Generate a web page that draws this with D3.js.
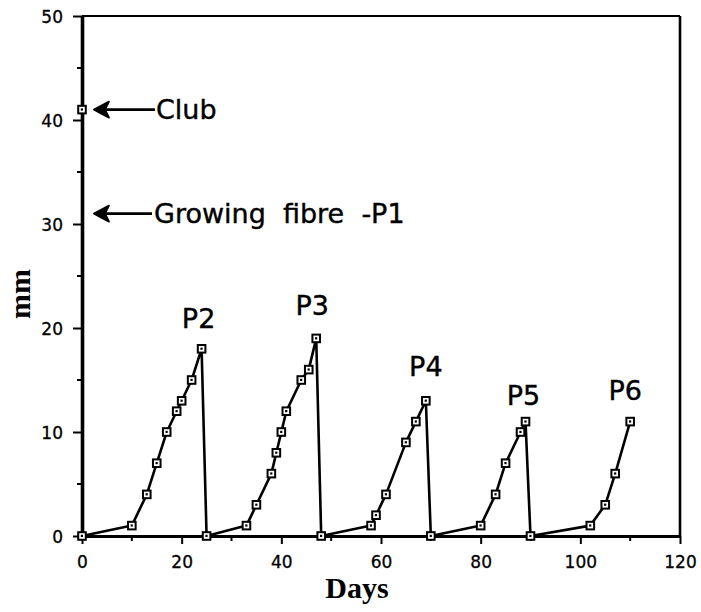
<!DOCTYPE html>
<html>
<head>
<meta charset="utf-8">
<script src="https://cdn.jsdelivr.net/npm/d3@7"></script>
<style>
  html, body { margin: 0; padding: 0; background: #fff; }
  svg { display: block; }
  .tick-label { font-family: "DejaVu Sans", sans-serif; font-size: 17px; fill: #000; stroke: #000; stroke-width: 0.3; }
  .note { font-family: "DejaVu Sans", sans-serif; font-size: 27px; fill: #000; stroke: #000; stroke-width: 0.4; white-space: pre; }
  .axis-title { font-family: "Liberation Serif", serif; font-weight: bold; font-size: 30px; fill: #000; }
</style>
</head>
<body>
<svg id="chart" width="701" height="612"></svg>
<script>
// Fibre length (mm) over time (days): successive growth cycles P2..P6
const days = [0, 10, 13, 15, 17, 19, 20, 22, 24, 25,
              33, 35, 38, 39, 40, 41, 44, 45.5, 47, 48,
              58, 59, 61, 65, 67, 69, 70,
              80, 83, 85, 88, 89, 90,
              102, 105, 107, 110];
const mm = [0, 1, 4, 7, 10, 12, 13, 15, 18, 0,
            1, 3, 6, 8, 10, 12, 15, 16, 19, 0,
            1, 2, 4, 9, 11, 13, 0,
            1, 4, 7, 10, 11, 0,
            1, 3, 6, 11];

// Club fibre measured at day 0
const clubDay = [0];
const clubMm = [41];

// Peak of each cycle
const cycleNames = ["P2", "P3", "P4", "P5", "P6"];
const cyclePeakDay = [24, 47, 69, 89, 110];
const cyclePeakMm = [18, 19, 13, 11, 11];

const xTicks = [0, 20, 40, 60, 80, 100, 120];
const yTicks = [0, 10, 20, 30, 40, 50];

const svg = d3.select("#chart");
const x = d3.scaleLinear().domain([0, 120]).range([82, 680]);
const y = d3.scaleLinear().domain([0, 50]).range([536, 16]);

// Frame: top and right borders
svg.append("line").attr("x1", x(0)).attr("x2", x(120)).attr("y1", y(50)).attr("y2", y(50))
  .attr("stroke", "#000").attr("stroke-width", 2.2);
svg.append("line").attr("x1", x(120)).attr("x2", x(120)).attr("y1", y(50)).attr("y2", y(0))
  .attr("stroke", "#000").attr("stroke-width", 2.6);

// Left axis
const yAxis = d3.axisLeft(y).tickValues(yTicks).tickSize(9).tickSizeOuter(0).tickFormat(d3.format("d"));
const gy = svg.append("g").attr("transform", `translate(${x(0)},0)`).call(yAxis);
gy.select(".domain").attr("stroke-width", 3.6);
gy.selectAll(".tick line").attr("stroke-width", 2);
gy.selectAll(".tick text").attr("class", "tick-label").attr("x", -19).attr("dy", "0.36em")
  .attr("font-size", null).attr("font-family", null);
gy.append("g").selectAll("line").data(d3.range(5, 50, 10)).join("line")
  .attr("x1", -5).attr("x2", 0).attr("y1", d => y(d)).attr("y2", d => y(d))
  .attr("stroke", "#000").attr("stroke-width", 2);

// Bottom axis
const xAxis = d3.axisBottom(x).tickValues(xTicks).tickSize(8).tickSizeOuter(0).tickFormat(d3.format("d"));
const gx = svg.append("g").attr("transform", `translate(0,${y(0)})`).call(xAxis);
gx.select(".domain").attr("stroke-width", 3);
gx.selectAll(".tick line").attr("stroke-width", 2);
gx.selectAll(".tick text").attr("class", "tick-label").attr("y", 20).attr("dy", "0.72em")
  .attr("font-size", null).attr("font-family", null);
gx.append("g").selectAll("line").data(d3.range(10, 120, 20)).join("line")
  .attr("x1", d => x(d)).attr("x2", d => x(d)).attr("y1", 0).attr("y2", 5)
  .attr("stroke", "#000").attr("stroke-width", 2);

// Axis titles
svg.append("text").attr("class", "axis-title").attr("text-anchor", "middle")
  .attr("x", 357).attr("y", 598).text("Days");
svg.append("text").attr("class", "axis-title").attr("text-anchor", "middle")
  .attr("transform", "translate(30,294) rotate(-90)").text("mm");

// Growth series
const pts = days.map((d, i) => [d, mm[i]]);
const line = d3.line().x(d => x(d[0])).y(d => y(d[1]));
svg.append("path").datum(pts).attr("d", line)
  .attr("fill", "none").attr("stroke", "#000").attr("stroke-width", 2.6).attr("stroke-linejoin", "round");

// Square markers
function markers(data) {
  const g = svg.append("g").selectAll("g").data(data).join("g")
    .attr("transform", d => `translate(${x(d[0])},${y(d[1])})`);
  g.append("rect").attr("x", -3.8).attr("y", -3.8).attr("width", 7.6).attr("height", 7.6)
    .attr("fill", "#fff").attr("stroke", "#000").attr("stroke-width", 2);
  g.append("rect").attr("x", -1.2).attr("y", -1.2).attr("width", 2.2).attr("height", 2.2).attr("fill", "#000");
}
markers(pts);
markers(clubDay.map((d, i) => [d, clubMm[i]]));

// Arrow annotations
function arrow(xTip, yv, len) {
  const tx = x(xTip) + 12, ty = y(yv);
  svg.append("line").attr("x1", tx + 8).attr("x2", tx + len).attr("y1", ty).attr("y2", ty)
    .attr("stroke", "#000").attr("stroke-width", 2.6);
  svg.append("path")
    .attr("d", `M${tx},${ty} L${tx + 15},${ty - 8} L${tx + 11},${ty} L${tx + 15},${ty + 8} Z`)
    .attr("fill", "#000").attr("stroke", "#000").attr("stroke-width", 1.8).attr("stroke-linejoin", "round");
  return tx + len;
}
const clubEnd = arrow(clubDay[0], clubMm[0], 61);
svg.append("text").attr("class", "note").attr("x", clubEnd + 1).attr("y", y(clubMm[0])).attr("dy", "0.36em").text("Club");
const fibreEnd = arrow(0, 31, 58);
svg.append("text").attr("class", "note").attr("x", fibreEnd + 2).attr("y", y(31)).attr("dy", "0.36em")
  .text("Growing  fibre  -P1");

// Cycle labels above each peak
const labelDx = [-3, -4, 0, -2, -5];
const labelDy = [-31, -33, -35, -26, -31];
svg.append("g").selectAll("text").data(cycleNames).join("text")
  .attr("class", "note").attr("text-anchor", "middle")
  .attr("x", (d, i) => x(cyclePeakDay[i]) + labelDx[i])
  .attr("y", (d, i) => y(cyclePeakMm[i]) + labelDy[i])
  .attr("dy", "0.36em")
  .text(d => d);
</script>
</body>
</html>
